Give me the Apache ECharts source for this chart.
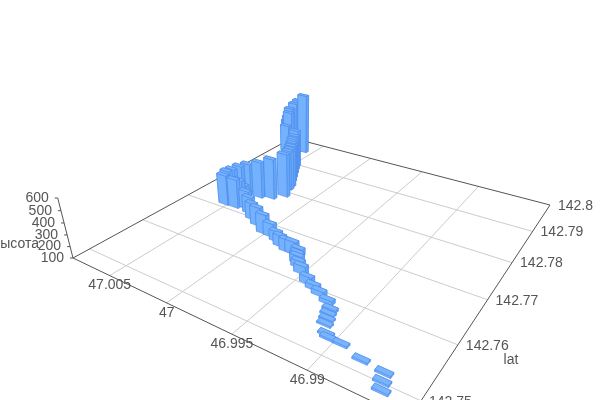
<!DOCTYPE html>
<html><head><meta charset="utf-8"><style>html,body{margin:0;background:#fff}#c{width:600px;height:400px}</style>
<script src="https://cdn.jsdelivr.net/npm/echarts@6/dist/echarts.min.js"></script></head><body><div id="c"></div>
<script>
const lonTicks=[47.005,47,46.995,46.99];
const latTicks=[142.75,142.76,142.77,142.78,142.79,142.8];
const heightTicks=[100,200,300,400,500,600];
const barLon=[46.98620,46.98644,46.98664,46.98808,46.98958,46.99042,46.99069,46.99119,46.99133,
46.99152,46.99162,46.99216,46.99298,46.99362,46.99427,46.99519,46.99573,46.99605,
46.99632,46.99654,46.99701,46.99749,46.99820,46.99881,46.99956,47.00022,47.00126,
47.00211,47.00287,47.00355,47.00398,47.00413,47.00434,47.00530,47.00564,47.00554,
47.00530,47.00488,47.00383,47.00295,47.00230,47.00274,47.00292,47.00339,47.00376,
47.00414,47.00453,47.00481,47.00738,47.00731,47.00723,47.00715,47.00708,47.00677,
47.00647,47.00595];
const barLat=[142.74894,142.75012,142.75141,142.75177,142.75277,142.75281,142.75327,142.75471,142.75562,142.75649,142.75728,
142.75841,142.75924,142.75988,142.76054,142.76198,142.76293,142.76365,142.76447,142.76538,142.76533,142.76528,
142.76588,142.76666,142.76729,142.76740,142.76877,142.76979,142.77103,142.77205,142.77266,142.77203,142.77132,
142.77121,142.77281,142.77381,142.77502,142.77605,142.77622,142.77704,142.77882,142.78129,142.78241,142.78410,
142.78551,142.78696,142.78845,142.78962,142.79434,142.79445,142.79456,142.79466,142.79477,142.79521,142.79564,
142.79578];
const barHeight=[116,116,116,116,116,116,116,116,116,117,125,134,142,143,160,169,161,170,
162,162,207,207,199,191,219,273,267,250,252,263,292,347,365,376,370,371,
381,391,436,472,502,470,463,448,442,445,439,461,371,423,465,506,547,598,
629,687];
const lonMax=47.0086,lonMin=46.9843,latMin=142.7472,latMax=142.8,zMin=100,zMax=600;
const A=[73,258],D=[409,419],C=[550,205],B=[292,138],VP=[300,1150],K=-0.063;
function sq2q(){const[x0,y0]=A,[x1,y1]=D,[x2,y2]=C,[x3,y3]=B;
 const dx1=x1-x2,dx2=x3-x2,sx=x0-x1+x2-x3,dy1=y1-y2,dy2=y3-y2,sy=y0-y1+y2-y3;
 const den=dx1*dy2-dx2*dy1,g=(sx*dy2-dx2*sy)/den,h=(dx1*sy-sx*dy1)/den;
 return [x1-x0+g*x1,x3-x0+h*x3,x0,y1-y0+g*y1,y3-y0+h*y3,y0,g,h,1];}
const H=sq2q();
const lin=echarts.number.linearMap;
function uvw(u,v,t){const w=H[6]*u+H[7]*v+1+K*t;return [(H[0]*u+H[1]*v+H[2]+K*t*VP[0])/w,(H[3]*u+H[4]*v+H[5]+K*t*VP[1])/w,w];}
function prj(lon,lat,z){return uvw(lin(lon,[lonMax,lonMin],[0,1]),lin(lat,[latMin,latMax],[0,1]),lin(z,[zMin,zMax],[0,1]));}
const dLon=0.00045,dLat=0.00036;
const data=barLon.map((l,i)=>[l,barLat[i],barHeight[i]]).sort((a,b)=>prj(b[0],b[1],100)[2]-prj(a[0],a[1],100)[2]);
const poly=(pts,fill)=>({type:'polygon',shape:{points:pts.map(p=>[p[0],p[1]])},style:{fill,stroke:'#4c8cec',lineWidth:0.6}});
function bar(p,api){const lo=api.value(0),la=api.value(1),z=api.value(2);
 const c=[[lo+dLon,la-dLat],[lo-dLon,la-dLat],[lo-dLon,la+dLat],[lo+dLon,la+dLat]];
 const b=c.map(q=>prj(q[0],q[1],zMin)),t=c.map(q=>prj(q[0],q[1],z));
 const fills=['#74b2fd','#66a6f8','#66a6f8','#74b2fd'];
 const faces=[0,1,2,3].map(i=>{const j=(i+1)%4;return {w:b[i][2]+b[j][2],s:poly([b[i],b[j],t[j],t[i]],fills[i])};}).sort((x,y)=>y.w-x.w);
 return {type:'group',children:faces.map(f=>f.s).concat([poly(t,'#7ab4fb')])};}
const line=(a,b,color,w)=>({type:'line',shape:{x1:a[0],y1:a[1],x2:b[0],y2:b[1]},style:{stroke:color,lineWidth:w||1}});
const txt=(s,x,y,al,fs)=>({type:'text',x,y,style:{text:s,fill:'#555',font:(fs||14)+'px "Liberation Sans"',textAlign:al,textVerticalAlign:'middle'}});
const chart=echarts.init(document.getElementById('c'),null,{renderer:'canvas'});
chart.setOption({animation:false,backgroundColor:'#fff',xAxis:{show:false},yAxis:{show:false},grid:{show:false},series:[
 {type:'custom',coordinateSystem:'none',silent:true,z:1,data:lonTicks,renderItem:(p,api)=>{const v=api.value(0),a=prj(v,latMin,zMin),b=prj(v,latMax,zMin);return line(a,b,'#ccc');}},
 {type:'custom',coordinateSystem:'none',silent:true,z:1,data:latTicks.slice(0,5),renderItem:(p,api)=>{const v=api.value(0),a=prj(lonMax,v,zMin),b=prj(lonMin,v,zMin);return line(a,b,'#ccc');}},
 {type:'custom',coordinateSystem:'none',silent:true,z:2,data:[0],renderItem:()=>{const a=prj(lonMax,latMin,zMin),d=prj(lonMin,latMin,zMin),c=prj(lonMin,latMax,zMin),b=prj(lonMax,latMax,zMin);
   return {type:'group',children:[line(a,b,'#555'),line(b,c,'#555'),line(a,d,'#555'),line(d,c,'#555'),line(a,prj(lonMax,latMin,zMax),'#555'),
    txt('lat',511,360,'center',14),txt('высота',39,244,'right',14)]};}},
 {type:'custom',coordinateSystem:'none',silent:true,z:3,data:lonTicks,renderItem:(p,api)=>{const v=api.value(0),a=prj(v,latMin,zMin);return txt(String(v),a[0],a[1]+10,'center');}},
 {type:'custom',coordinateSystem:'none',silent:true,z:3,data:latTicks,renderItem:(p,api)=>{const v=api.value(0),a=prj(lonMin,v,zMin);return txt(String(v),a[0]+8,a[1]+1,'left');}},
 {type:'custom',coordinateSystem:'none',silent:true,z:3,data:heightTicks,renderItem:(p,api)=>{const v=api.value(0),a=prj(lonMax,latMin,v);return {type:'group',children:[line(a,[a[0]-3,a[1]],'#555'),txt(String(v),a[0]-9,a[1],'right')]};}},
 {type:'custom',coordinateSystem:'none',silent:true,z:4,data:data,renderItem:bar}
]});
</script></body></html>
